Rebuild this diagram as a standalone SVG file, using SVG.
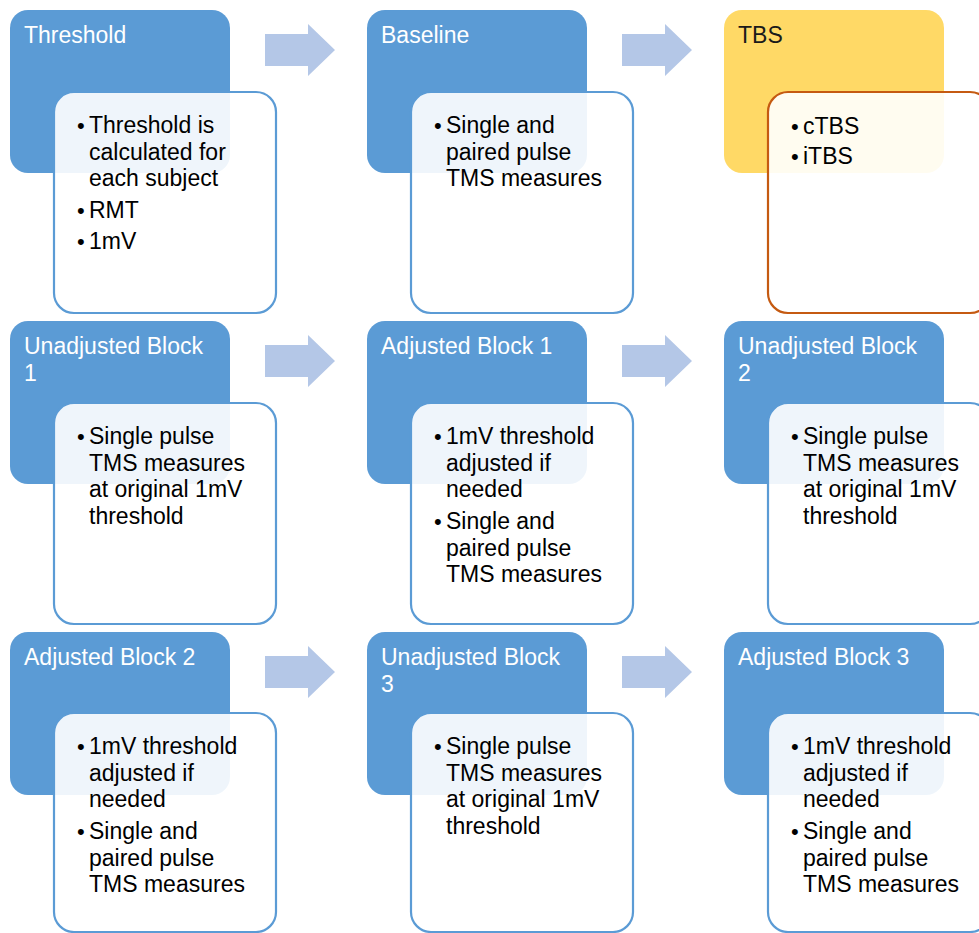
<svg xmlns="http://www.w3.org/2000/svg" width="979" height="933" viewBox="0 0 979 933">
<style>
.hd{fill:#5B9BD5}
.hdy{fill:#FFD966}
.dt{fill:#FFFFFF;fill-opacity:0.9;stroke:#5B9BD5;stroke-width:2.2}
.dto{fill:#FFFFFF;fill-opacity:0.9;stroke:#C55A11;stroke-width:2.2}
.ht{font-family:"Liberation Sans",Arial,sans-serif;font-size:23px;fill:#FFFFFF}
.htd{font-family:"Liberation Sans",Arial,sans-serif;font-size:23px;fill:#1a1a1a}
.bt{font-family:"Liberation Sans",Arial,sans-serif;font-size:23px;fill:#000000}
.bu{font-family:"Liberation Sans",sans-serif;font-size:22px;fill:#000000}
.ar{fill:#B4C7E7}
</style>
<rect width="979" height="933" fill="#FFFFFF"/>
<g id="connectors">
<path class="ar" d="M265,34 H308 V24 L335,50 L308,76 V66 H265 Z"/>
<path class="ar" d="M622,34 H665 V24 L692,50 L665,76 V66 H622 Z"/>
<path class="ar" d="M265,345 H308 V335 L335,361 L308,387 V377 H265 Z"/>
<path class="ar" d="M622,345 H665 V335 L692,361 L665,387 V377 H622 Z"/>
<path class="ar" d="M265,656 H308 V646 L335,672 L308,698 V688 H265 Z"/>
<path class="ar" d="M622,656 H665 V646 L692,672 L665,698 V688 H622 Z"/>
</g>
<g id="threshold">
<rect class="hd" x="10" y="10" width="220" height="163" rx="18"/>
<text class="ht" x="24" y="43">Threshold</text>
<rect class="dt" x="54" y="92" width="222" height="221" rx="20"/>
<text class="bu"><tspan x="77" y="133">•</tspan><tspan x="77" y="218">•</tspan><tspan x="77" y="249">•</tspan></text>
<text class="bt"><tspan x="89" y="133">Threshold is</tspan><tspan x="89" y="159.5">calculated for</tspan><tspan x="89" y="186">each subject</tspan><tspan x="89" y="218">RMT</tspan><tspan x="89" y="249">1mV</tspan></text>
</g>
<g id="baseline">
<rect class="hd" x="367" y="10" width="220" height="163" rx="18"/>
<text class="ht" x="381" y="43">Baseline</text>
<rect class="dt" x="411" y="92" width="222" height="221" rx="20"/>
<text class="bu"><tspan x="434" y="133">•</tspan></text>
<text class="bt"><tspan x="446" y="133">Single and</tspan><tspan x="446" y="159.5">paired pulse</tspan><tspan x="446" y="186">TMS measures</tspan></text>
</g>
<g id="tbs">
<rect class="hdy" x="724" y="10" width="220" height="163" rx="18"/>
<text class="htd" x="738" y="43">TBS</text>
<rect class="dto" x="768" y="92" width="222" height="221" rx="20"/>
<text class="bu"><tspan x="791" y="134">•</tspan><tspan x="791" y="164">•</tspan></text>
<text class="bt"><tspan x="803" y="134">cTBS</tspan><tspan x="803" y="164">iTBS</tspan></text>
</g>
<g id="unadjusted-block-1">
<rect class="hd" x="10" y="321" width="220" height="163" rx="18"/>
<text class="ht"><tspan x="24" y="354">Unadjusted Block</tspan><tspan x="24" y="380.5">1</tspan></text>
<rect class="dt" x="54" y="403" width="222" height="221" rx="20"/>
<text class="bu"><tspan x="77" y="444">•</tspan></text>
<text class="bt"><tspan x="89" y="444">Single pulse</tspan><tspan x="89" y="470.5">TMS measures</tspan><tspan x="89" y="497">at original 1mV</tspan><tspan x="89" y="523.5">threshold</tspan></text>
</g>
<g id="adjusted-block-1">
<rect class="hd" x="367" y="321" width="220" height="163" rx="18"/>
<text class="ht" x="381" y="354">Adjusted Block 1</text>
<rect class="dt" x="411" y="403" width="222" height="221" rx="20"/>
<text class="bu"><tspan x="434" y="444">•</tspan><tspan x="434" y="529">•</tspan></text>
<text class="bt"><tspan x="446" y="444">1mV threshold</tspan><tspan x="446" y="470.5">adjusted if</tspan><tspan x="446" y="497">needed</tspan><tspan x="446" y="529">Single and</tspan><tspan x="446" y="555.5">paired pulse</tspan><tspan x="446" y="582">TMS measures</tspan></text>
</g>
<g id="unadjusted-block-2">
<rect class="hd" x="724" y="321" width="220" height="163" rx="18"/>
<text class="ht"><tspan x="738" y="354">Unadjusted Block</tspan><tspan x="738" y="380.5">2</tspan></text>
<rect class="dt" x="768" y="403" width="222" height="221" rx="20"/>
<text class="bu"><tspan x="791" y="444">•</tspan></text>
<text class="bt"><tspan x="803" y="444">Single pulse</tspan><tspan x="803" y="470.5">TMS measures</tspan><tspan x="803" y="497">at original 1mV</tspan><tspan x="803" y="523.5">threshold</tspan></text>
</g>
<g id="adjusted-block-2">
<rect class="hd" x="10" y="632" width="220" height="163" rx="18"/>
<text class="ht" x="24" y="665">Adjusted Block 2</text>
<rect class="dt" x="54" y="713" width="222" height="219" rx="20"/>
<text class="bu"><tspan x="77" y="754">•</tspan><tspan x="77" y="839">•</tspan></text>
<text class="bt"><tspan x="89" y="754">1mV threshold</tspan><tspan x="89" y="780.5">adjusted if</tspan><tspan x="89" y="807">needed</tspan><tspan x="89" y="839">Single and</tspan><tspan x="89" y="865.5">paired pulse</tspan><tspan x="89" y="892">TMS measures</tspan></text>
</g>
<g id="unadjusted-block-3">
<rect class="hd" x="367" y="632" width="220" height="163" rx="18"/>
<text class="ht"><tspan x="381" y="665">Unadjusted Block</tspan><tspan x="381" y="691.5">3</tspan></text>
<rect class="dt" x="411" y="713" width="222" height="219" rx="20"/>
<text class="bu"><tspan x="434" y="754">•</tspan></text>
<text class="bt"><tspan x="446" y="754">Single pulse</tspan><tspan x="446" y="780.5">TMS measures</tspan><tspan x="446" y="807">at original 1mV</tspan><tspan x="446" y="833.5">threshold</tspan></text>
</g>
<g id="adjusted-block-3">
<rect class="hd" x="724" y="632" width="220" height="163" rx="18"/>
<text class="ht" x="738" y="665">Adjusted Block 3</text>
<rect class="dt" x="768" y="713" width="222" height="219" rx="20"/>
<text class="bu"><tspan x="791" y="754">•</tspan><tspan x="791" y="839">•</tspan></text>
<text class="bt"><tspan x="803" y="754">1mV threshold</tspan><tspan x="803" y="780.5">adjusted if</tspan><tspan x="803" y="807">needed</tspan><tspan x="803" y="839">Single and</tspan><tspan x="803" y="865.5">paired pulse</tspan><tspan x="803" y="892">TMS measures</tspan></text>
</g>
</svg>
